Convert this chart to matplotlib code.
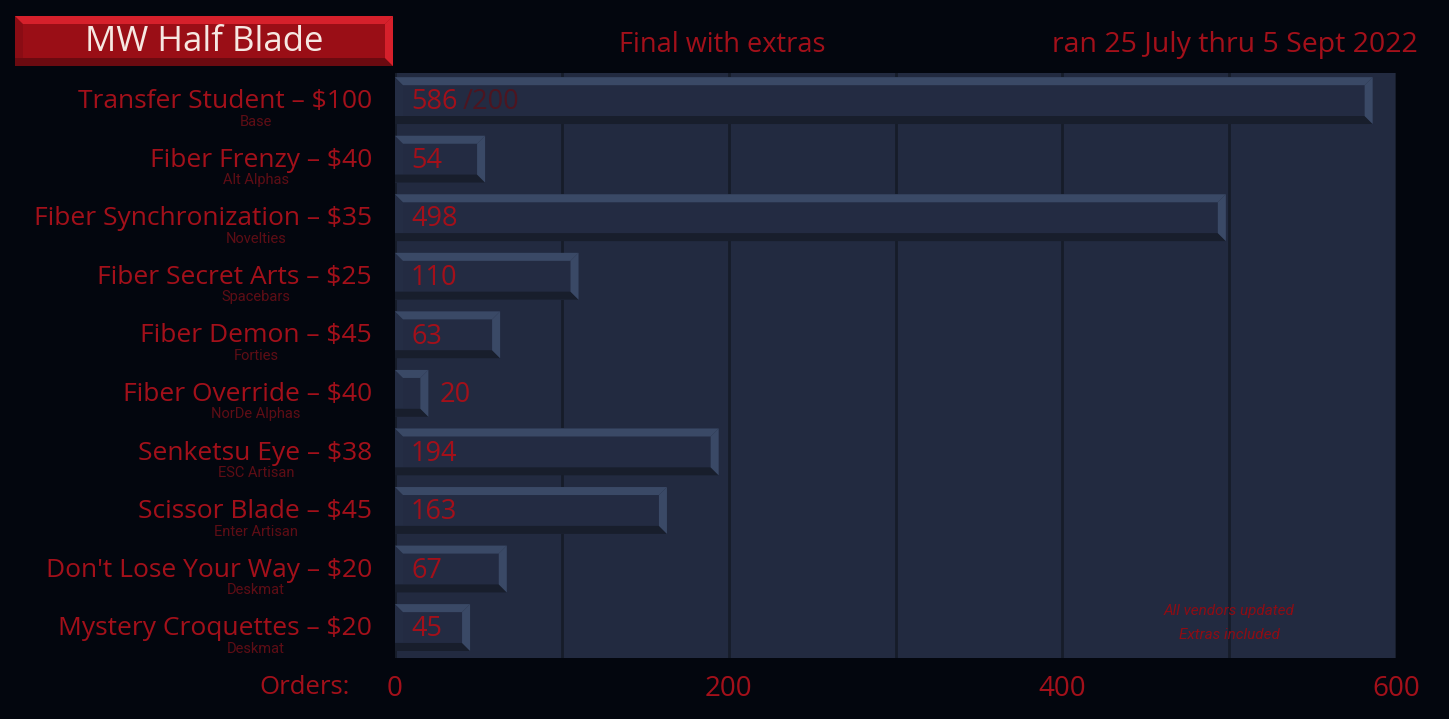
import matplotlib
matplotlib.use("Agg")
import matplotlib.pyplot as plt
from matplotlib.patches import Polygon, Rectangle

# ---- data ----
products = ["Transfer Student \u2013 $100", "Fiber Frenzy \u2013 $40",
            "Fiber Synchronization \u2013 $35", "Fiber Secret Arts \u2013 $25",
            "Fiber Demon \u2013 $45", "Fiber Override \u2013 $40",
            "Senketsu Eye \u2013 $38", "Scissor Blade \u2013 $45",
            "Don't Lose Your Way \u2013 $20", "Mystery Croquettes \u2013 $20"]
kinds = ["Base", "Alt Alphas", "Novelties", "Spacebars", "Forties",
         "NorDe Alphas", "ESC Artisan", "Enter Artisan", "Deskmat", "Deskmat"]
orders = [586, 54, 498, 110, 63, 20, 194, 163, 67, 45]
base_target = 200
x_ticks = [0, 200, 400, 600]

title = "MW Half Blade"
subtitle = "Final with extras"
run_dates = "ran 25 July thru 5 Sept 2022"
note = "All vendors updated\nExtras included"

# ---- colours ----
FIG_BG = "#03060e"
PLOT_BG = "#222a40"
GRID = "#161c29"
FACE = "#232b42"
LIGHT = "#3a4966"
DARK = "#181e2c"
LEFT = "#242d44"
RED = "#a3101a"
DIM_RED = "#5e0d15"
FONT = ["Open Sans", "DejaVu Sans"]
NARROW = ["Roboto", "DejaVu Sans"]

W, H = 1449, 719
fig = plt.figure(figsize=(W / 100, H / 100), dpi=100, facecolor=FIG_BG)

# pixel-space overlay for the title box
bg = fig.add_axes([0, 0, 1, 1], zorder=0)
bg.set_xlim(0, W)
bg.set_ylim(H, 0)
bg.axis("off")


def bevel(a, x0, x1, y0, y1, bx, by, face, light, dark, left, z=2):
    """box with top/right highlight and bottom shadow; y0 is the top edge"""
    a.add_patch(Rectangle((x0, y0), x1 - x0, y1 - y0, fc=face, ec="none", zorder=z))
    a.add_patch(Polygon([(x0, y0), (x0 + bx, y0 + by), (x0 + bx, y1 - by), (x0, y1 - by)],
                        fc=left, ec="none", zorder=z))
    a.add_patch(Polygon([(x0, y1), (x1, y1), (x1 - bx, y1 - by), (x0, y1 - by)],
                        fc=dark, ec="none", zorder=z))
    a.add_patch(Polygon([(x0, y0), (x1, y0), (x1 - bx, y0 + by), (x0 + bx, y0 + by)],
                        fc=light, ec="none", zorder=z))
    a.add_patch(Polygon([(x1, y0), (x1, y1), (x1 - bx, y1 - by), (x1 - bx, y0 + by)],
                        fc=light, ec="none", zorder=z))


bevel(bg, 15, 393, 16, 66, 8, 8, "#9a0e16", "#d6202b", "#6b0a10", "#8a0c14")
bg.text(204, 42, title, ha="center", va="center", fontsize=25,
        color="#f6e8e2", family=FONT)
bg.text(722, 45, subtitle, ha="center", va="center", fontsize=19.5,
        color=RED, family=FONT)
bg.text(1418, 45, run_dates, ha="right", va="center", fontsize=20.5,
        color=RED, family=FONT)

# ---- main bar panel ----
left, right, top, bottom = 395, 1396, 72.5, 658
ax = fig.add_axes([left / W, (H - bottom) / H, (right - left) / W, (bottom - top) / H],
                  zorder=1)
ax.set_facecolor(PLOT_BG)
n = len(orders)
ax.set_xlim(0, 600)
ax.set_ylim(n, 0)
for s in ax.spines.values():
    s.set_visible(False)

ax.set_xticks(x_ticks)
ax.set_xticks([100, 300, 500], minor=True)
ax.set_yticks([])
ax.grid(which="both", axis="x", color=GRID, lw=2, zorder=0)
ax.set_axisbelow(True)
ax.tick_params(axis="x", which="both", length=0, pad=12, labelsize=20,
               labelcolor=RED)
for lab in ax.get_xticklabels():
    lab.set_family(FONT)

px_x = 600 / (right - left)
px_y = n / (bottom - top)
bx, by = 8 * px_x, 8 * px_y

for i, (name, kind, v) in enumerate(zip(products, kinds, orders)):
    y0, y1 = i + 0.08, i + 0.88
    bevel(ax, 0, v, y0, y1, bx, by, FACE, LIGHT, DARK, LEFT, z=2)
    yc = (y0 + y1) / 2
    inside = v > 30
    tx = 16 * px_x if inside else v + 11 * px_x
    t = ax.text(tx, yc + 0.03, str(v), ha="left", va="center", fontsize=19.5,
                color=RED, family=FONT, zorder=3)
    if i == 0:
        ax.annotate("/" + str(base_target), xy=(1, 0.5), xycoords=t,
                    xytext=(4, 0), textcoords="offset points", ha="left",
                    va="center", fontsize=19.5, color="#4d1520", family=FONT,
                    zorder=3)
    ax.text(-23 / (right - left), yc + 0.02, name, transform=ax.get_yaxis_transform(),
            ha="right", va="center", fontsize=19, color=RED, family=FONT,
            clip_on=False)
    ax.text(-139 / (right - left), yc + 0.36, kind, transform=ax.get_yaxis_transform(),
            ha="center", va="center", fontsize=10.5, color=DIM_RED, family=NARROW,
            clip_on=False)

ax.text(-45 / (right - left), -30 / (bottom - top), "Orders:",
        transform=ax.transAxes, ha="right", va="center", fontsize=18.5,
        color=RED, family=FONT)

ax.text(500, 9.40, note, ha="center", va="center", fontsize=11, color="#8e0c14",
        style="italic", family=NARROW, linespacing=1.9, zorder=3)

fig.savefig("out.png", dpi=100, facecolor=FIG_BG)
